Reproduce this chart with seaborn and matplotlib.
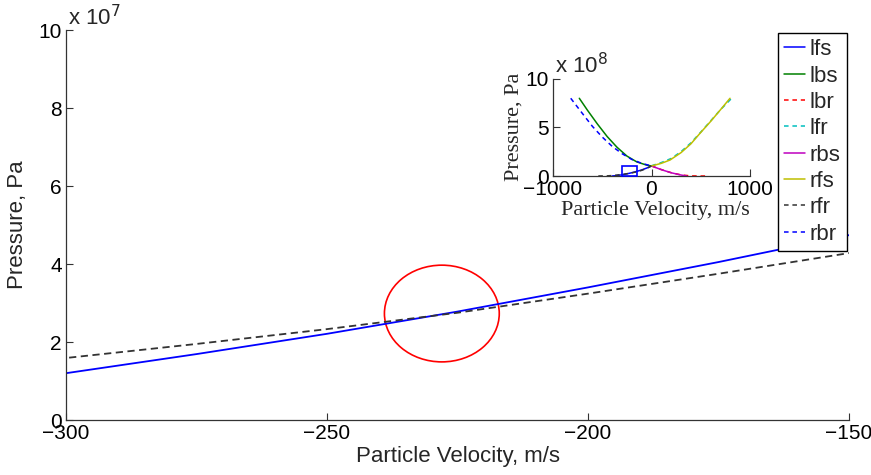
import numpy as np
import pandas as pd
import seaborn as sns
import matplotlib
matplotlib.use("Agg")
import matplotlib.pyplot as plt
from matplotlib.patches import Ellipse, Rectangle

sns.set_theme(style="white")
plt.rcParams['font.family'] = ['Liberation Sans', 'DejaVu Sans']

# ---------------- data ----------------
# particle velocity (m/s) and pressure (Pa) for each curve
lfs_u = [-400, -350, -300, -275, -250, -225, -200, -175, -150, -100, -50, 0]
lfs_p = [0.0, 0.5e7, 1.2e7, 1.69e7, 2.21e7, 2.78e7, 3.40e7, 4.05e7, 4.74e7, 6.2e7, 8.1e7, 1.03e8]

lbs_u = [-733, -650, -550, -450, -350, -250, -150, -50, 0]
lbs_p = [7.98e8, 6.75e8, 5.35e8, 4.05e8, 2.95e8, 2.05e8, 1.45e8, 1.12e8, 1.03e8]

lbr_u = [0, 100, 200, 300, 400, 500, 575]
lbr_p = [1.03e8, 0.66e8, 0.34e8, 0.11e8, 0.01e8, 0.0, 0.0]

lfr_u = [0, 100, 200, 300, 400, 500, 600, 700, 814]
lfr_p = [1.05e8, 1.38e8, 1.8e8, 2.5e8, 3.4e8, 4.5e8, 5.65e8, 6.8e8, 7.98e8]

rbs_u = [0, 100, 200, 300, 357]
rbs_p = [1.03e8, 0.65e8, 0.33e8, 0.10e8, 0.0]

rfs_u = [0, 100, 188, 300, 400, 492, 600, 700, 797]
rfs_p = [1.03e8, 1.3e8, 1.64e8, 2.4e8, 3.3e8, 4.38e8, 5.6e8, 6.8e8, 7.98e8]

rfr_u = [-540, -450, -400, -350, -300, -275, -250, -225, -200, -175, -150, -100, -50, 0]
rfr_p = [0.0, 0.15e7, 0.45e7, 0.95e7, 1.59e7, 1.95e7, 2.33e7, 2.75e7, 3.24e7, 3.75e7, 4.28e7, 5.8e7, 7.8e7, 1.03e8]

rbr_u = [-820, -700, -600, -500, -400, -300, -200, -100, 0]
rbr_p = [7.98e8, 6.4e8, 5.1e8, 4.0e8, 3.05e8, 2.3e8, 1.7e8, 1.3e8, 1.03e8]

series_names = ["lfs", "lbs", "lbr", "lfr", "rbs", "rfs", "rfr", "rbr"]
series_u = [lfs_u, lbs_u, lbr_u, lfr_u, rbs_u, rfs_u, rfr_u, rbr_u]
series_p = [lfs_p, lbs_p, lbr_p, lfr_p, rbs_p, rfs_p, rfr_p, rbr_p]
series_color = ["#0000ff", "#008000", "#ff0000", "#00bfbf", "#bf00bf", "#bfbf00", "#333333", "#0000ff"]
series_dash = [False, False, True, True, False, False, True, True]

main_xticks = [-300, -250, -200, -150]
main_yticks = [0, 2e7, 4e7, 6e7, 8e7, 10e7]
inset_xticks = [-1000, 0, 1000]
inset_yticks = [0, 5e8, 10e8]

# highlighted intersection (ellipse) and zoom box
ell_center = (-228, 2.73e7)
ell_size = (22, 2.48e7)
zoom_box = (-300, 0, 150, 1e8)

frames = [pd.DataFrame({"u": u, "p": p, "name": n})
          for n, u, p in zip(series_names, series_u, series_p)]
df = pd.concat(frames, ignore_index=True)

DASH = (0, (4, 2.5))
FS = 16
TFS = 15
SANS = ['Liberation Sans', 'DejaVu Sans']
SERIF = ['Liberation Serif', 'DejaVu Serif']

fig = plt.figure(figsize=(8.71, 4.75), dpi=100)
ax = fig.add_axes([66/871, 1-420/475, (849-66)/871, (420-30)/475])
axi = fig.add_axes([553/871, 1-176/475, (750-553)/871, (176-78.6)/475])

def style_axes(a):
    for s in ["top", "right"]:
        a.spines[s].set_visible(False)
    for s in ["left", "bottom"]:
        a.spines[s].set_color("#333333")
        a.spines[s].set_linewidth(0.9)
    a.tick_params(direction="in", length=5, width=0.8, colors="#333333",
                  labelcolor="black", labelsize=TFS, pad=3, left=True, bottom=True)
    for lab in a.get_xticklabels() + a.get_yticklabels():
        lab.set_family(SANS)

# ---- main axes: lfs and rfr only
for n, c, d in zip(series_names, series_color, series_dash):
    if n not in ("lfs", "rfr"):
        continue
    sub = df[df.name == n]
    sns.lineplot(data=sub, x="u", y="p", ax=ax, color=c, lw=1.3,
                 linestyle=DASH if d else "-", sort=True, estimator=None)
ax.set_xlim(-300, -150)
ax.set_ylim(0, 1e8)
ax.set_xticks(main_xticks)
ax.set_yticks(main_yticks)
ax.set_xticklabels(["\u2212300", "\u2212250", "\u2212200", "\u2212150"])
ax.set_yticklabels([f"{v/1e7:g}" for v in main_yticks])
style_axes(ax)
ax.set_xlabel("Particle Velocity, m/s", fontsize=FS)
ax.set_ylabel("Pressure, Pa", fontsize=FS)
ax.xaxis.set_label_coords(0.5, -0.066)
ax.yaxis.set_label_coords(-0.048, 0.5)
ax.text(0.002, 1.0, "x 10$^{7}$", transform=ax.transAxes, fontsize=FS,
        ha="left", va="bottom")
ax.add_patch(Ellipse(ell_center, ell_size[0], ell_size[1], fill=False,
                     edgecolor="#ff0000", lw=1.2))

# ---- inset: all curves
for n, c, d in zip(series_names, series_color, series_dash):
    sub = df[df.name == n]
    sns.lineplot(data=sub, x="u", y="p", ax=axi, color=c, lw=1.1,
                 linestyle=(0, (3, 2.5)) if d else "-", sort=True,
                 estimator=None, label=n, legend=False, clip_on=False)
axi.add_patch(Rectangle((zoom_box[0], zoom_box[1]), zoom_box[2], zoom_box[3],
                        fill=False, edgecolor="#0000ff", lw=1.2, zorder=5, clip_on=False))
axi.set_xlim(-1000, 1000)
axi.set_ylim(0, 1e9)
axi.set_xticks(inset_xticks)
axi.set_yticks(inset_yticks)
axi.set_xticklabels(["\u22121000", "0", "1000"])
axi.set_yticklabels([f"{v/1e8:g}" for v in inset_yticks])
style_axes(axi)
axi.set_xlabel("Particle Velocity, m/s", fontsize=FS, family=SERIF)
axi.set_ylabel("Pressure, Pa", fontsize=FS, family=SERIF)
axi.xaxis.set_label_coords(0.52, -0.26)
axi.yaxis.set_label_coords(-0.15, 0.5)
axi.text(0.01, 1.0, "x 10$^{8}$", transform=axi.transAxes, fontsize=FS,
         ha="left", va="bottom")
axi.patch.set_alpha(0)

# ---- legend
handles, labels = axi.get_legend_handles_labels()
leg = fig.legend(handles, labels, loc="upper right",
                 bbox_to_anchor=(847/871, 1-33/475), fontsize=FS,
                 frameon=True, fancybox=False, edgecolor="black",
                 framealpha=1, handlelength=0.95, handletextpad=0.2,
                 labelspacing=0.24, borderpad=0.28, borderaxespad=0)
leg.get_frame().set_linewidth(1.0)

fig.savefig("out.png", dpi=100)
